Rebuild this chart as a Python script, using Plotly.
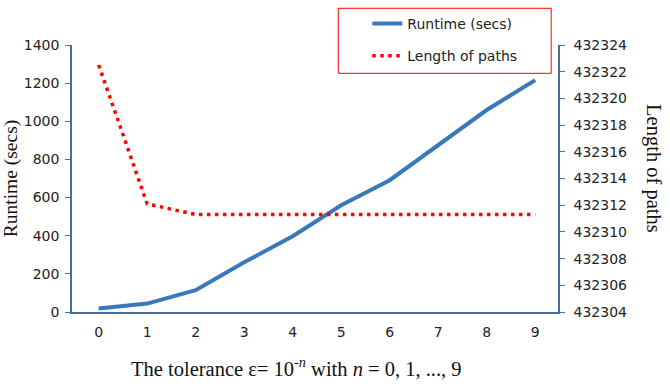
import plotly.graph_objects as go

n_values = [0, 1, 2, 3, 4, 5, 6, 7, 8, 9]
runtime_secs = [18, 44, 114, 261, 397, 560, 691, 875, 1059, 1216]
path_length = [432322.5, 432312.1, 432311.3, 432311.3, 432311.3, 432311.3,
               432311.3, 432311.3, 432311.3, 432311.3]
left_ticks = [0, 200, 400, 600, 800, 1000, 1200, 1400]
right_ticks = list(range(432304, 432325, 2))

axis_color = "#4a6d9c"
tick_font = dict(family="DejaVu Sans", size=14, color="#222222")
title_font = dict(family="Liberation Serif", size=19.5, color="#111111")

fig = go.Figure()
fig.add_trace(go.Scatter(
    x=n_values, y=runtime_secs, name="Runtime (secs)", mode="lines",
    line=dict(color="#3a78bc", width=4), legendgroup="a"))
fig.add_trace(go.Scatter(
    x=n_values, y=path_length, name="Length of paths", mode="lines",
    line=dict(color="#ff0000", width=3.5, dash="3.5px,4.5px"), yaxis="y2",
    legendgroup="b"))

fig.update_layout(
    width=670, height=386,
    margin=dict(l=72, r=112, t=45, b=74, autoexpand=False),
    paper_bgcolor="white", plot_bgcolor="white",
    showlegend=True,
    legend=dict(
        x=0.6076, y=1.139, xanchor="left", yanchor="top",
        borderwidth=0, bgcolor="rgba(0,0,0,0)",
        font=dict(family="DejaVu Sans", size=14, color="#222222"),
        tracegroupgap=11, traceorder="grouped",
    ),
    shapes=[dict(type="rect", xref="paper", yref="paper",
                 x0=0.548, x1=0.986, y0=0.894, y1=1.1375,
                 line=dict(color="#ff0000", width=1), fillcolor="white",
                 layer="above")],
    xaxis=dict(
        range=[-0.55, 9.47], tickvals=n_values, ticktext=[str(v) for v in n_values],
        showgrid=False, zeroline=False, showline=True, linecolor=axis_color,
        linewidth=1.5, ticks="", tickfont=tick_font, ticklabelstandoff=6,
    ),
    yaxis=dict(
        range=[0, 1400], tickvals=left_ticks, showgrid=False, zeroline=False,
        showline=True, linecolor=axis_color, linewidth=1.5, ticks="outside",
        ticklen=5, tickcolor=axis_color, tickfont=tick_font, ticklabelstandoff=3,
    ),
    yaxis2=dict(
        range=[432304, 432324], tickvals=right_ticks, overlaying="y", side="right",
        showgrid=False, zeroline=False, showline=True, linecolor=axis_color,
        linewidth=1.5, ticks="outside", ticklen=5, tickcolor=axis_color,
        tickfont=tick_font, tickformat="d", ticklabelstandoff=6,
    ),
    annotations=[
        dict(text="Runtime (secs)", xref="paper", yref="paper", x=-0.126, y=0.5,
             textangle=-90, showarrow=False, font=title_font,
             xanchor="center", yanchor="middle"),
        dict(text="Length of paths", xref="paper", yref="paper", x=1.196, y=0.538,
             textangle=90, showarrow=False, font=dict(title_font, size=20.5),
             xanchor="center", yanchor="middle"),
        dict(text="The tolerance ε= 10<sup>-<i>n</i></sup> with <i>n</i> = 0, 1, ..., 9",
             xref="paper", yref="paper", x=0.4615, y=-0.207, showarrow=False,
             font=dict(title_font, size=20.5), xanchor="center", yanchor="middle"),
    ],
)

fig.write_html("out.html", config={"displayModeBar": False},
               post_script="document.body.style.margin='0';")
